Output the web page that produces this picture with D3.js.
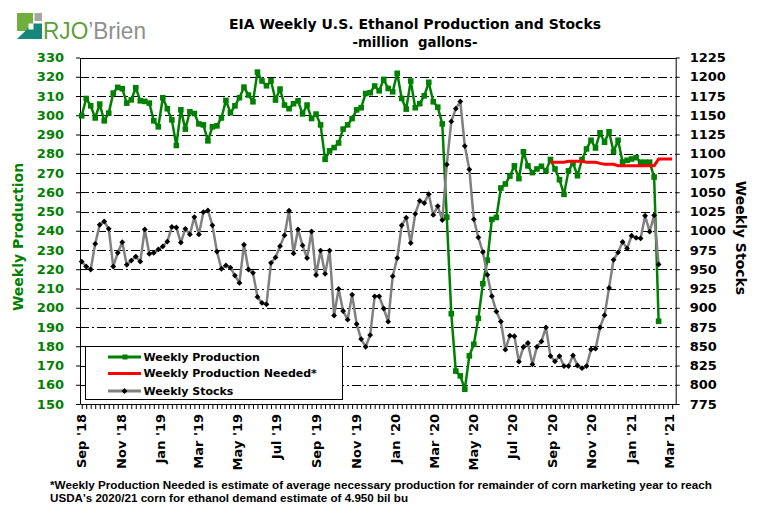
<!DOCTYPE html>
<html>
<head>
<meta charset="utf-8">
<script src="https://cdn.jsdelivr.net/npm/d3@7"></script>
<style>
  body { margin: 0; background: #fff; }
  svg text { font-family: "DejaVu Sans", Arial, sans-serif; font-weight: bold; }
</style>
</head>
<body>
<svg id="chart" width="763" height="516"></svg>
<script>
// weekly EIA figures, million gallons, weeks ending Friday from Sep 7 2018
const production = [
  299.7, 308.7, 304.9, 298.6, 305.8, 297.1, 301.1, 311.5, 314.5, 313.8,
  306.3, 308.0, 314.3, 307.5, 307.2, 306.3, 297.1, 294.0, 309.1, 303.4,
  297.6, 284.3, 302.8, 292.8, 301.8, 300.9, 295.5, 295.0, 286.7, 294.0,
  294.5, 298.6, 307.7, 301.3, 304.9, 309.1, 314.6, 310.5, 307.0, 322.4,
  317.8, 315.3, 317.9, 307.9, 313.6, 305.3, 303.4, 306.0, 307.5, 300.7,
  305.3, 298.3, 300.6, 295.0, 277.1, 281.5, 283.2, 285.6, 292.8, 295.0,
  298.3, 302.8, 303.9, 311.3, 311.7, 315.2, 312.7, 318.6, 313.9, 312.2,
  321.8, 308.7, 303.2, 317.8, 303.9, 306.0, 310.1, 317.1, 307.0, 304.2,
  295.5, 247.0, 196.9, 167.1, 164.6, 157.7, 175.0, 181.0, 194.5, 212.5,
  224.7, 245.9, 246.9, 262.2, 264.3, 268.4, 273.7, 267.1, 281.0, 273.7,
  270.2, 272.1, 273.5, 271.1, 277.0, 272.1, 266.5, 258.9, 271.1, 275.2,
  268.6, 277.0, 282.5, 287.0, 283.0, 290.9, 286.0, 291.4, 281.1, 287.0,
  275.7, 276.6, 277.3, 278.0, 275.6, 275.6, 275.6, 267.9, 193.0
];
const stocks = [
  960, 953.6, 949.7, 983, 1007.8, 1012, 1002.5, 953.6, 971.3, 985.2,
  955.7, 961.3, 966.5, 960, 1001.7, 970, 971.3, 975.7, 979.6, 986,
  1005, 1004.2, 984.7, 1002.5, 995.2, 1017.8, 995.2, 1024.3, 1026.4, 1007,
  973, 950.6, 955, 952, 941.8, 932.3, 981.8, 949.7, 945.3, 914,
  906.3, 904.5, 958.3, 965.3, 980, 994, 1026, 970.5, 1001.7, 981,
  964.5, 999, 942.5, 974.3, 944, 974.3, 889.8, 924.5, 895.8, 884.5,
  917, 878.8, 859.3, 849.3, 864.5, 914.8, 914.8, 899, 881.9, 941,
  964.5, 1007, 1017, 984, 1022, 1038.8, 1036, 1047.5, 1020.6, 1032,
  1013.8, 1086, 1142, 1158.5, 1168, 1110, 1079.6, 1014.8, 991.3, 972.4,
  942.7, 915, 895, 882, 845.6, 863.7, 863, 830, 849, 854.2,
  826.5, 849.3, 856.3, 874.5, 837.3, 830.3, 837.3, 824.3, 824.3, 838,
  825, 821.5, 824.3, 846, 846.8, 874.5, 890.3, 925.8, 962.3, 971.8,
  985.5, 977, 993.5, 990.8, 990, 1019.5, 998.8, 1020, 956.3
];
// production needed, from week ending Sep 4 2020 (week index 104)
const neededStart = 104;
const needed = [
  275.6, 275.6, 275.6, 275.6, 276.1, 276.1, 276.1, 276.1, 275.6, 275.6,
  275.6, 275.0, 274.5, 274.5, 274.5, 273.8, 273.8, 273.8, 273.8, 273.8,
  273.8, 273.8, 273.8, 273.8, 277.3, 277.3, 277.3, 277.3
];
const leftTicks = [150, 160, 170, 180, 190, 200, 210, 220, 230, 240, 250, 260, 270, 280, 290, 300, 310, 320, 330];
const rightTicks = [775, 800, 825, 850, 875, 900, 925, 950, 975, 1000, 1025, 1050, 1075, 1100, 1125, 1150, 1175, 1200, 1225];
const monthLabels = ["Sep '18", "Nov '18", "Jan '19", "Mar '19", "May '19", "Jul '19", "Sep '19", "Nov '19",
  "Jan '20", "Mar '20", "May '20", "Jul '20", "Sep '20", "Nov '20", "Jan '21", "Mar '21"];

const svg = d3.select("#chart");
const plotLeft = 80, plotRight = 675.7, plotTop = 57.5, plotBottom = 404;

const weeks = d3.timeFriday.range(new Date(2018, 8, 7), new Date(2021, 2, 13));
const labelDates = monthLabels.map((d, i) => d3.timeMonth.offset(new Date(2018, 8, 7), i * 2));

const x = d3.scaleTime()
    .domain([new Date(2018, 8, 4, 9), new Date(2021, 2, 17, 12)])
    .range([plotLeft, plotRight]);
const yL = d3.scaleLinear().domain([150, 330]).range([plotBottom, plotTop]);
const yR = d3.scaleLinear().domain([775, 1225]).range([plotBottom, plotTop]);

// logo
const logo = svg.append("g");
logo.append("rect").attr("x", 17).attr("y", 13).attr("width", 16).attr("height", 18).attr("fill", "#6fae3f");
logo.append("rect").attr("x", 34.5).attr("y", 13).attr("width", 7.5).attr("height", 8).attr("fill", "#a6a6a6");
logo.append("polygon").attr("points", "17,39 33,23.5 42,23.5 42,39").attr("fill", "#17877a");
logo.append("rect").attr("x", 28.5).attr("y", 23.5).attr("width", 5).attr("height", 6).attr("fill", "#fff");
const logoText = logo.append("text").attr("x", 43).attr("y", 39)
    .attr("textLength", 103).attr("lengthAdjust", "spacingAndGlyphs")
    .style("font-family", "'Liberation Sans', Arial, sans-serif")
    .style("font-weight", "normal").style("font-size", "24px");
logoText.append("tspan").attr("fill", "#5f9e3a").text("RJO");
logoText.append("tspan").attr("fill", "#8f8f8f").text("\u2019Brien");

// titles
svg.append("text").attr("x", 415).attr("y", 28.5).attr("text-anchor", "middle")
    .style("font-size", "14px").text("EIA Weekly U.S. Ethanol Production and Stocks");
svg.append("text").attr("x", 415).attr("y", 46.5).attr("text-anchor", "middle")
    .style("font-size", "13.3px").style("white-space", "pre").text("-million  gallons-");

// grid lines
svg.append("g").selectAll("line")
    .data(leftTicks.filter(d => d > 150 && d < 330))
    .join("line")
    .attr("x1", plotLeft).attr("x2", plotRight)
    .attr("y1", d => Math.round(yL(d)) + 0.5).attr("y2", d => Math.round(yL(d)) + 0.5)
    .attr("stroke", "#000").attr("stroke-width", 1)
    .attr("stroke-dasharray", "9,3,2,3");

// top border
svg.append("line").attr("x1", plotLeft).attr("x2", plotRight)
    .attr("y1", Math.round(plotTop) + 0.5).attr("y2", Math.round(plotTop) + 0.5)
    .attr("stroke", "#000");

// axes
const leftAxis = svg.append("g").attr("transform", `translate(${plotLeft},0)`)
    .call(d3.axisLeft(yL).tickValues(leftTicks).tickSize(4).tickPadding(12).tickSizeOuter(0));
leftAxis.selectAll("text").attr("fill", "#008000").style("font-size", "13px")
    .style("font-family", "'DejaVu Sans', Arial, sans-serif");

const rightAxis = svg.append("g").attr("transform", `translate(${plotRight},0)`)
    .call(d3.axisRight(yR).tickValues(rightTicks).tickFormat(d3.format("d"))
        .tickSize(4).tickPadding(10).tickSizeOuter(0));
rightAxis.selectAll("text").attr("fill", "#000").style("font-size", "13px")
    .style("font-family", "'DejaVu Sans', Arial, sans-serif");

svg.append("g").attr("transform", `translate(0,${plotBottom})`)
    .call(d3.axisBottom(x).tickValues(weeks).tickSize(5).tickFormat("").tickSizeOuter(0));
svg.selectAll(".domain").attr("stroke", "#000");
svg.selectAll(".tick line").attr("stroke", "#000");

svg.append("g").selectAll("text")
    .data(monthLabels)
    .join("text")
    .attr("transform", (d, i) => `translate(${x(labelDates[i])},414) rotate(-90)`)
    .attr("text-anchor", "end").attr("dy", "0.36em")
    .style("font-size", "13px")
    .text(d => d);

// axis titles
svg.append("text").attr("transform", "translate(18,237) rotate(-90)")
    .attr("text-anchor", "middle").attr("dy", "0.36em")
    .attr("fill", "#008000").style("font-size", "14px").text("Weekly Production");
svg.append("text").attr("transform", "translate(741,238) rotate(90)")
    .attr("text-anchor", "middle").attr("dy", "0.36em")
    .style("font-size", "14px").text("Weekly Stocks");

// series
const prodData = production.map((v, i) => ({ date: weeks[i], v }));
const stockData = stocks.map((v, i) => ({ date: weeks[i], v }));
const neededData = needed.map((v, i) => ({ date: weeks[neededStart + i], v }));

const prodLine = d3.line().x(d => x(d.date)).y(d => yL(d.v));
const stockLine = d3.line().x(d => x(d.date)).y(d => yR(d.v));
const diamond = "M0,-2.9L2.9,0L0,2.9L-2.9,0Z";

svg.append("path").datum(prodData)
    .attr("d", prodLine).attr("fill", "none")
    .attr("stroke", "#008000").attr("stroke-width", 2.5).attr("stroke-linejoin", "round");
svg.append("g").selectAll("rect")
    .data(prodData)
    .join("rect")
    .attr("x", d => x(d.date) - 2.8).attr("y", d => yL(d.v) - 2.8)
    .attr("width", 5.6).attr("height", 5.6)
    .attr("fill", "#008000");

svg.append("path").datum(neededData)
    .attr("d", prodLine).attr("fill", "none")
    .attr("stroke", "#ff0000").attr("stroke-width", 3);

svg.append("path").datum(stockData)
    .attr("d", stockLine).attr("fill", "none")
    .attr("stroke", "#808080").attr("stroke-width", 2.5).attr("stroke-linejoin", "round");
svg.append("g").selectAll("path")
    .data(stockData)
    .join("path")
    .attr("transform", d => `translate(${x(d.date)},${yR(d.v)})`)
    .attr("d", diamond).attr("fill", "#000");

// legend
const legend = svg.append("g");
legend.append("rect").attr("x", 85.5).attr("y", Math.round(yL(180)) + 0.5)
    .attr("width", 257).attr("height", 53)
    .attr("fill", "#fff").attr("stroke", "#000");
const legendItems = [
  { name: "Weekly Production", color: "#008000", y: 357, marker: "square" },
  { name: "Weekly Production Needed*", color: "#ff0000", y: 373.5, marker: "none" },
  { name: "Weekly Stocks", color: "#808080", y: 391, marker: "diamond" }
];
legendItems.forEach(item => {
  legend.append("line").attr("x1", 108).attr("x2", 141)
      .attr("y1", item.y).attr("y2", item.y)
      .attr("stroke", item.color).attr("stroke-width", 3);
  if (item.marker === "square") {
    legend.append("rect").attr("x", 122.5).attr("y", item.y - 2.5)
        .attr("width", 5).attr("height", 5).attr("fill", item.color);
  } else if (item.marker === "diamond") {
    legend.append("path").attr("transform", `translate(124.5,${item.y})`)
        .attr("d", diamond).attr("fill", "#000");
  }
  legend.append("text").attr("x", 143.5).attr("y", item.y).attr("dy", "0.36em")
      .style("font-size", "11px").text(item.name);
});

// footnote
const note = svg.append("g");
note.append("text").attr("x", 50).attr("y", 488.5)
    .attr("textLength", 662).attr("lengthAdjust", "spacingAndGlyphs")
    .style("font-family", "'Liberation Sans', Arial, sans-serif").style("font-size", "11.5px")
    .text("*Weekly Production Needed is estimate of average necessary production for remainder of corn marketing year to reach");
note.append("text").attr("x", 50).attr("y", 501.5)
    .attr("textLength", 358).attr("lengthAdjust", "spacingAndGlyphs")
    .style("font-family", "'Liberation Sans', Arial, sans-serif").style("font-size", "11.5px")
    .text("USDA's  2020/21 corn for ethanol demand estimate of 4.950 bil bu");
</script>
</body>
</html>
